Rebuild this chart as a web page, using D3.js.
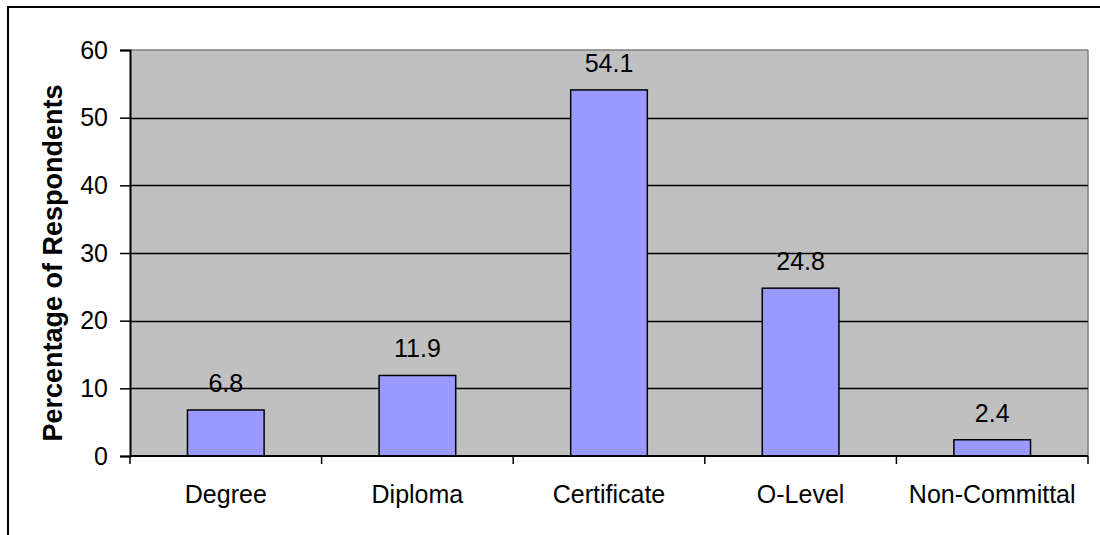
<!DOCTYPE html>
<html><head><meta charset="utf-8">
<script src="https://cdn.jsdelivr.net/npm/d3@7/dist/d3.min.js"></script>
<style>body{margin:0;background:#fff;}svg{display:block;font-family:Arial,"Liberation Sans",sans-serif;}</style>
</head><body>
<script>
const categories = ["Degree","Diploma","Certificate","O-Level","Non-Committal"];
const values = [6.8, 11.9, 54.1, 24.8, 2.4];
const yTicks = [0,10,20,30,40,50,60];
const yTitle = "Percentage of Respondents";

const W = 1100, H = 535;
const L = 130, R = 1088, T = 50, B = 456;
const svg = d3.select("body").append("svg").attr("width", W).attr("height", H);

// outer border
svg.append("rect").attr("x",8).attr("y",7).attr("width",W+20).attr("height",H+20)
  .attr("fill","#fff").attr("stroke","#000").attr("stroke-width",2);

const x = d3.scaleBand().domain(categories).range([L,R]).padding(0);
const y = d3.scaleLinear().domain([0,60]).range([B,T]);

// plot area
svg.append("rect").attr("x",L).attr("y",T).attr("width",R-L).attr("height",B-T).attr("fill","#C0C0C0");
svg.append("line").attr("x1",L).attr("x2",R).attr("y1",T).attr("y2",T).attr("stroke","#808080").attr("stroke-width",1.5);
svg.append("line").attr("x1",R).attr("x2",R).attr("y1",T).attr("y2",B).attr("stroke","#808080").attr("stroke-width",1.5);

// gridlines
svg.append("g").selectAll("line").data(yTicks.filter(d=>d>0 && d<60)).join("line")
  .attr("x1",L).attr("x2",R).attr("y1",d=>Math.round(y(d))+0.5).attr("y2",d=>Math.round(y(d))+0.5)
  .attr("stroke","#000").attr("stroke-width",1.3);

// bars
const bw = x.bandwidth()*0.4;
svg.append("g").selectAll("rect").data(values).join("rect")
  .attr("x",(d,i)=>x(categories[i])+x.bandwidth()/2-bw/2)
  .attr("y",d=>y(d)).attr("width",bw).attr("height",d=>B-y(d))
  .attr("fill","#9999FF").attr("stroke","#000").attr("stroke-width",1.5);

// value labels
svg.append("g").selectAll("text").data(values).join("text")
  .attr("x",(d,i)=>x(categories[i])+x.bandwidth()/2).attr("y",d=>y(d)-18)
  .attr("text-anchor","middle").attr("font-size",25).attr("fill","#000").text(d=>d.toFixed(1));

// y axis
const yAxis = d3.axisLeft(y).tickValues(yTicks).tickSize(10).tickPadding(12).tickFormat(d3.format("d"));
const gy = svg.append("g").attr("transform",`translate(${L},0)`).call(yAxis);
gy.select(".domain").attr("stroke","#000").attr("stroke-width",2);
gy.selectAll(".tick line").attr("stroke","#000").attr("stroke-width",1.5);
gy.selectAll(".tick text").attr("font-size",25).attr("font-family","Arial, 'Liberation Sans', sans-serif").attr("fill","#000");

// x axis
const gx = svg.append("g").attr("transform",`translate(0,${B})`);
gx.append("line").attr("x1",L).attr("x2",R).attr("y1",0).attr("y2",0).attr("stroke","#000").attr("stroke-width",2);
const bounds = categories.map(c=>x(c)).concat([R]);
gx.selectAll("line.t").data(bounds).join("line").attr("class","t")
  .attr("x1",d=>d).attr("x2",d=>d).attr("y1",0).attr("y2",8).attr("stroke","#000").attr("stroke-width",1.5);
gx.selectAll("text").data(categories).join("text")
  .attr("x",d=>x(d)+x.bandwidth()/2).attr("y",47)
  .attr("text-anchor","middle").attr("font-size",25).attr("fill","#000").text(d=>d);

// y title
svg.append("text").attr("transform","translate(62,263) rotate(-90)")
  .attr("text-anchor","middle").attr("font-size",27).attr("font-weight","bold").attr("fill","#000").text(yTitle);
</script>
</body></html>
